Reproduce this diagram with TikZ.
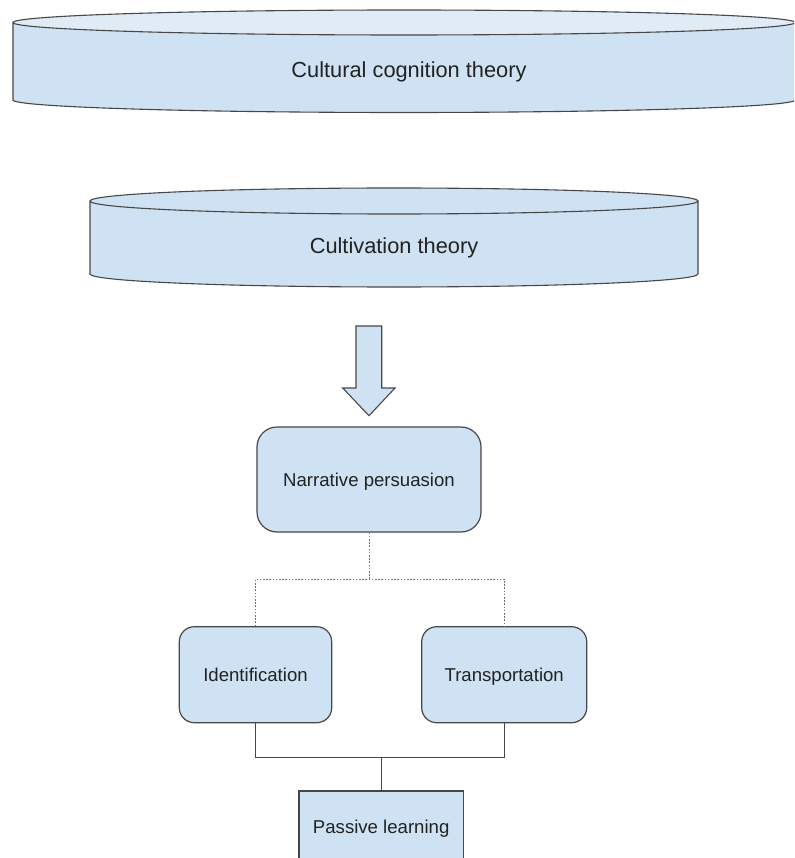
\documentclass[tikz,border=0pt]{standalone}
\usepackage{fontspec}
\setmainfont{Liberation Sans}
\definecolor{fillblue}{HTML}{CFE2F3}
\definecolor{toplight}{HTML}{E1EBF6}
\definecolor{edgegray}{HTML}{474747}
\definecolor{txtcol}{HTML}{222222}
\definecolor{dotgray}{HTML}{707070}
\begin{document}
\begin{tikzpicture}[x=1pt,y=-1pt,
  cyledge/.style={draw=edgegray,line width=1.1pt},
  cyltext/.style={text=txtcol,font=\fontsize{21.8}{26}\selectfont,inner sep=0pt,text height=15.6pt,text depth=0pt},
  roundbox/.style={draw=edgegray,line width=1.2pt,fill=fillblue,rounded corners=#1,text=txtcol,font=\fontsize{18.6}{22}\selectfont,inner sep=0pt,text height=13.3pt,text depth=0pt},
  plainbox/.style={draw=edgegray,line width=1.2pt,fill=fillblue,text=txtcol,font=\fontsize{18.6}{22}\selectfont,inner sep=0pt,text height=13.3pt,text depth=0pt},
  dotline/.style={draw=dotgray,line width=0.9pt,dash pattern=on 1.6pt off 1.6pt},
  solidline/.style={draw=edgegray,line width=1.1pt}]
\useasboundingbox (0,0) rectangle (794,858);
\clip (0,0) rectangle (794,858);
% cylinder 1
\fill[fillblue] (13,22.5) -- (13,100) arc[start angle=180,end angle=0,x radius=391,y radius=12.5] -- (795,22.5) -- cycle;
\draw[cyledge] (13,22.5) -- (13,100) arc[start angle=180,end angle=0,x radius=391,y radius=12.5] -- (795,22.5);
\draw[cyledge,fill=toplight] (404,22.5) ellipse [x radius=391,y radius=12.5];
\node[cyltext] (cct) at (409,70) {Cultural cognition theory};
% cylinder 2
\fill[fillblue] (90,201) -- (90,274) arc[start angle=180,end angle=0,x radius=304,y radius=13] -- (698,201) -- cycle;
\draw[cyledge] (90,201) -- (90,274) arc[start angle=180,end angle=0,x radius=304,y radius=13] -- (698,201);
\draw[cyledge,fill=fillblue] (394,201) ellipse [x radius=304,y radius=13];
\node[cyltext] (cvt) at (394,246) {Cultivation theory};
% block arrow
\draw[cyledge,fill=fillblue,line join=miter] (356,326) -- (381.7,326) -- (381.7,388) -- (395,388) -- (369,415.7) -- (342.7,388) -- (356,388) -- cycle;
% boxes
\node[roundbox=20pt,minimum width=224pt,minimum height=105pt] (narr) at (369,479.5) {Narrative persuasion};
\node[roundbox=15pt,minimum width=152.4pt,minimum height=96pt] (ident) at (255.5,674.7) {Identification};
\node[roundbox=15pt,minimum width=165pt,minimum height=96pt] (trans) at (504.2,674.7) {Transportation};
\node[plainbox,minimum width=164.3pt,minimum height=72pt] (pass) at (381.2,827) {Passive learning};
% connectors
\draw[dotline] (narr.south) -- ++(0,46.5) coordinate (split);
\draw[dotline] (ident.north) |- (split) -| (trans.north);
\draw[solidline] (ident.south) -- ++(0,34) coordinate (jl) -- (jl -| trans.south) -- (trans.south);
\draw[solidline] (pass.north) -- (pass.north |- jl);
\end{tikzpicture}
\end{document}
